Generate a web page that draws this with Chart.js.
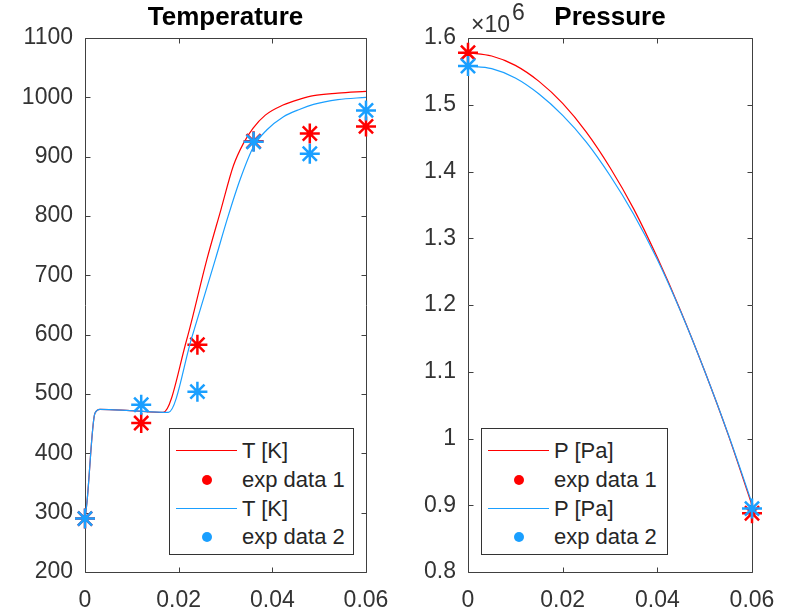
<!DOCTYPE html>
<html>
<head>
<meta charset="utf-8">
<script src="https://cdn.jsdelivr.net/npm/chart.js@4.4.1/dist/chart.umd.min.js"></script>
<style>
  body { margin: 0; background: #fff; overflow: hidden; }
  #wrap { position: relative; width: 786px; height: 613px; }
  .pane { position: absolute; top: 0; width: 393px; height: 613px; }
  .legend {
    position: absolute; box-sizing: border-box; background: #fff;
    border: 1px solid #333; font-family: 'Liberation Sans', Arial, sans-serif;
    font-size: 22px; color: #262626;
  }
  .legend .row { position: absolute; left: 0; height: 28px; width: 100%; }
  .legend .line { position: absolute; left: 6px; width: 61px; top: 13px; height: 1px; }
  .legend .dot { position: absolute; left: 32px; top: 9px; width: 10px; height: 10px; border-radius: 50%; }
  .legend .txt { position: absolute; left: 72px; top: 0; line-height: 28px; white-space: nowrap; }
</style>
</head>
<body>
<div id="wrap">
  <div class="pane" style="left:0"><canvas id="tempChart"></canvas></div>
  <div class="pane" style="left:393px"><canvas id="presChart"></canvas></div>
  <div class="legend" id="tempLegend" style="left:169px; top:428px; width:185px; height:127px"></div>
  <div class="legend" id="presLegend" style="left:481px; top:428px; width:187px; height:127px"></div>
</div>
<script>
// Temperature - simulated curves
const tempX1 = [0, 0.0004, 0.0021, 0.0032, 0.0096, 0.0167, 0.0217, 0.026, 0.029, 0.0317, 0.0338, 0.0359, 0.0385, 0.0423, 0.0459, 0.0488, 0.054, 0.06];
const tempT1 = [290, 316, 467, 474, 472, 469, 591, 726, 810, 885, 922, 948, 970, 987, 997, 1003, 1007, 1010];
const tempX2 = [0, 0.0004, 0.0021, 0.0032, 0.0096, 0.0178, 0.0228, 0.0278, 0.0305, 0.0331, 0.036, 0.0388, 0.0423, 0.0459, 0.0488, 0.054, 0.06];
const tempT2 = [290, 316, 467, 474, 472, 469, 595, 726, 798, 861, 917, 945, 967, 980, 988, 996, 1000];

// Temperature - experimental points
const expX = [0, 0.012, 0.024, 0.036, 0.048, 0.06];
const tempExp1 = [290, 451, 583, 926, 939, 951];
const tempExp2 = [290, 482, 504, 925, 905, 978];

// Pressure - simulated curves
const presX = [0, 0.005, 0.01, 0.015, 0.02, 0.025, 0.03, 0.035, 0.04, 0.045, 0.05, 0.055, 0.06];
const presP1 = [1578000, 1573000, 1559000, 1535000, 1502000, 1459000, 1406000, 1344000, 1271000, 1190000, 1101000, 1005000, 900000];
const presP2 = [1558000, 1554000, 1540000, 1516000, 1484000, 1444000, 1394000, 1336000, 1268000, 1189000, 1101000, 1006000, 903000];

// Pressure - experimental points
const presExpX = [0, 0.06];
const presExp1 = [1578000, 888000];
const presExp2 = [1558000, 895000];

const xTicks = [0, 0.02, 0.04, 0.06];
const labels1 = ['T [K]', 'exp data 1', 'T [K]', 'exp data 2'];
const labels2 = ['P [Pa]', 'exp data 1', 'P [Pa]', 'exp data 2'];

const RED = '#ff0000';
const BLUE = '#1a9fff';
const FONT = "'Liberation Sans', Arial, sans-serif";

const pts = (xs, ys) => xs.map((x, i) => ({ x: x, y: ys[i] }));

function lineSet(label, xs, ys, color, order) {
  return {
    label: label, data: pts(xs, ys), showLine: true, borderColor: color,
    backgroundColor: color, borderWidth: 1.2, pointRadius: 0,
    cubicInterpolationMode: 'monotone', clip: false, order: order
  };
}

function expSet(label, xs, ys, color, order) {
  return {
    label: label, data: pts(xs, ys), showLine: false, borderColor: color,
    backgroundColor: color, pointStyle: 'star', pointRadius: 10,
    pointBorderWidth: 2.5, clip: false, order: order
  };
}

// frame, inward ticks and the x10^n exponent, MATLAB style
const axesBox = {
  id: 'axesBox',
  beforeDatasetsDraw(chart, args, opts) {
    const { ctx, chartArea: a, scales } = chart;
    const L = Math.round(a.left) + 0.5, R = Math.round(a.right) + 0.5;
    const T = Math.round(a.top) + 0.5, B = Math.round(a.bottom) + 0.5;
    ctx.save();
    ctx.strokeStyle = '#404040';
    ctx.lineWidth = 1;
    ctx.beginPath();
    ctx.rect(L, T, R - L, B - T);
    scales.x.ticks.forEach(t => {
      const px = Math.round(scales.x.getPixelForValue(t.value)) + 0.5;
      ctx.moveTo(px, B); ctx.lineTo(px, B - 5);
      ctx.moveTo(px, T); ctx.lineTo(px, T + 5);
    });
    scales.y.ticks.forEach(t => {
      const py = Math.round(scales.y.getPixelForValue(t.value)) + 0.5;
      ctx.moveTo(L, py); ctx.lineTo(L + 5, py);
      ctx.moveTo(R, py); ctx.lineTo(R - 5, py);
    });
    ctx.stroke();
    if (opts.exponent) {
      ctx.fillStyle = '#333';
      ctx.textBaseline = 'alphabetic';
      ctx.font = '23px ' + FONT;
      ctx.fillText('\u00d710', a.left + 3, a.top - 6);
      const w = ctx.measureText('\u00d710').width;
      ctx.fillText(String(opts.exponent), a.left + 3 + w + 2, a.top - 18);
    }
    ctx.restore();
  }
};

function makeOptions(title, yMin, yMax, yStep, yFmt, yWidth, padRight, exponent) {
  return {
    responsive: true,
    maintainAspectRatio: false,
    animation: false,
    layout: { padding: { left: 0, right: padRight, top: 0, bottom: 0 } },
    plugins: {
      legend: { display: false },
      tooltip: { enabled: false },
      title: {
        display: true, text: title, fullSize: false, color: '#000',
        font: { family: FONT, size: 26, weight: 'bold', lineHeight: 1.2 },
        padding: { top: 2, bottom: 4.8 }
      },
      axesBox: { exponent: exponent }
    },
    scales: {
      x: {
        type: 'linear', min: 0, max: 0.06,
        afterBuildTicks: s => { s.ticks = xTicks.map(v => ({ value: v })); },
        afterFit: s => { s.height = 41; s.paddingLeft = 0; s.paddingRight = 0; },
        grid: { display: false, drawTicks: false },
        border: { display: false },
        ticks: {
          padding: 15, color: '#333', maxRotation: 0,
          font: { family: FONT, size: 23 },
          callback: v => String(Math.round(v * 100) / 100)
        }
      },
      y: {
        type: 'linear', min: yMin, max: yMax,
        afterFit: s => { s.width = yWidth; },
        grid: { display: false, drawTicks: false },
        border: { display: false },
        ticks: {
          stepSize: yStep, padding: 12, color: '#333',
          font: { family: FONT, size: 23 },
          callback: yFmt
        }
      }
    }
  };
}

function buildLegend(el, chart) {
  chart.data.datasets.forEach((ds, i) => {
    const row = document.createElement('div');
    row.className = 'row';
    row.style.top = (8 + i * 28.8) + 'px';
    const mark = document.createElement('span');
    mark.className = ds.showLine ? 'line' : 'dot';
    mark.style.background = ds.borderColor;
    const txt = document.createElement('span');
    txt.className = 'txt';
    txt.textContent = ds.label;
    row.appendChild(mark);
    row.appendChild(txt);
    el.appendChild(row);
  });
}

const tempChart = new Chart(document.getElementById('tempChart'), {
  type: 'scatter',
  data: {
    datasets: [
      lineSet(labels1[0], tempX1, tempT1, RED, 4),
      expSet(labels1[1], expX, tempExp1, RED, 3),
      lineSet(labels1[2], tempX2, tempT2, BLUE, 2),
      expSet(labels1[3], expX, tempExp2, BLUE, 1)
    ]
  },
  options: makeOptions('Temperature', 200, 1100, 100, v => String(v), 85, 27, 0),
  plugins: [axesBox]
});

const presChart = new Chart(document.getElementById('presChart'), {
  type: 'scatter',
  data: {
    datasets: [
      lineSet(labels2[0], presX, presP1, RED, 4),
      expSet(labels2[1], presExpX, presExp1, RED, 3),
      lineSet(labels2[2], presX, presP2, BLUE, 2),
      expSet(labels2[3], presExpX, presExp2, BLUE, 1)
    ]
  },
  options: makeOptions('Pressure', 800000, 1600000, 100000, v => String(Math.round(v / 100000) / 10), 75, 34, 6),
  plugins: [axesBox]
});

buildLegend(document.getElementById('tempLegend'), tempChart);
buildLegend(document.getElementById('presLegend'), presChart);
</script>
</body>
</html>
